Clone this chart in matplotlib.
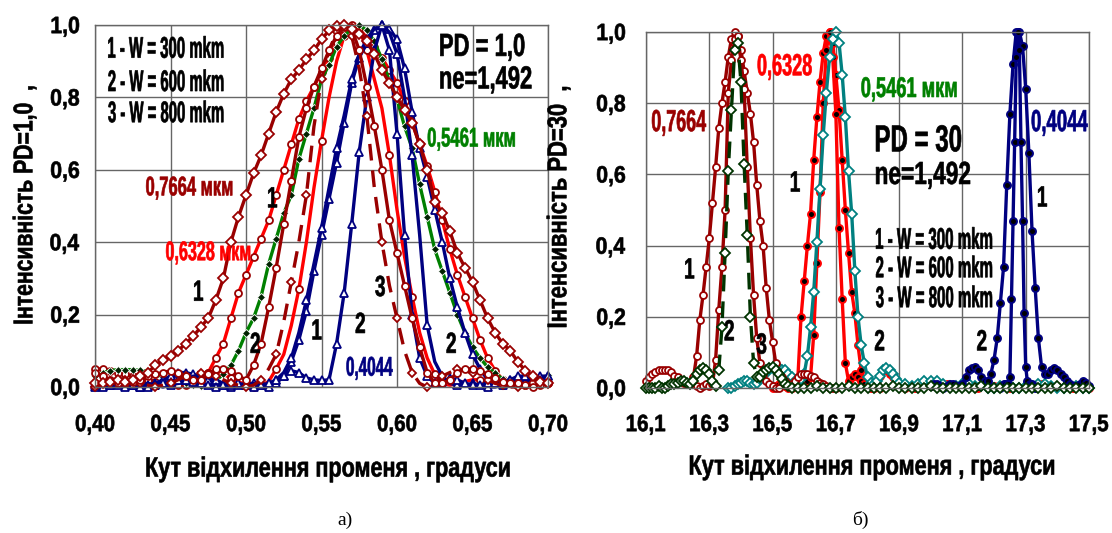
import matplotlib
matplotlib.use("Agg")
import matplotlib.pyplot as plt
from matplotlib.textpath import TextPath
from matplotlib.patches import PathPatch
from matplotlib.font_manager import FontProperties
from matplotlib.transforms import Affine2D, ScaledTranslation, IdentityTransform

# ---------------- data: panel a) PD = 1,0 ----------------
XL = [0.400, 0.405, 0.410, 0.415, 0.420, 0.425, 0.430, 0.435, 0.440, 0.445,
      0.450, 0.455, 0.460, 0.465, 0.470, 0.475, 0.480, 0.485, 0.490, 0.495,
      0.500, 0.505, 0.510, 0.515, 0.520, 0.525, 0.530, 0.535, 0.540, 0.545,
      0.550, 0.555, 0.560, 0.565, 0.570, 0.575, 0.580, 0.585, 0.590, 0.595,
      0.600, 0.605, 0.610, 0.615, 0.620, 0.625, 0.630, 0.635, 0.640, 0.645,
      0.650, 0.655, 0.660, 0.665, 0.670, 0.675, 0.680, 0.685, 0.690, 0.695,
      0.700]

# 0,7664 mkm, W = 300 / 600 / 800
dr_w300 = [0.01, 0.01, 0.015, 0.02, 0.015, 0.02, 0.03, 0.04, 0.06, 0.075,
           0.085, 0.10, 0.12, 0.14, 0.165, 0.19, 0.24, 0.30, 0.40, 0.47,
           0.53, 0.59, 0.64, 0.70, 0.76, 0.81, 0.85, 0.875, 0.905, 0.93,
           0.96, 0.985, 0.997, 1.0, 0.99, 0.975, 0.955, 0.92, 0.875, 0.84,
           0.80, 0.765, 0.73, 0.67, 0.60, 0.51, 0.48, 0.43, 0.37, 0.33,
           0.29, 0.24, 0.19, 0.15, 0.12, 0.10, 0.07, 0.045, 0.03, 0.015, 0.01]
dr_w600 = [0.04, 0.03, 0.02, 0.01, 0.01, 0.015, 0.02, 0.03, 0.035, 0.04,
           0.045, 0.04, 0.03, 0.02, 0.02, 0.035, 0.05, 0.05, 0.045, 0.03,
           0.02, 0.06, 0.12, 0.22, 0.33, 0.45, 0.57, 0.69, 0.77, 0.83,
           0.88, 0.93, 0.97, 0.995, 0.99, 0.93, 0.83, 0.72, 0.60, 0.46,
           0.37, 0.28, 0.19, 0.11, 0.04, 0.01, 0.01, 0.02, 0.04, 0.05,
           0.05, 0.045, 0.035, 0.025, 0.015, 0.01, 0.01, 0.005, 0.0, 0.005, 0.01]
dr_w800 = [0.0, 0.005, 0.01, 0.015, 0.02, 0.015, 0.01, 0.005, 0.0, 0.005,
           0.01, 0.02, 0.03, 0.04, 0.04, 0.035, 0.03, 0.02, 0.01, 0.005,
           0.0, 0.005, 0.02, 0.05, 0.09, 0.18, 0.29, 0.40, 0.53, 0.72,
           0.85, 0.93, 0.98, 1.0, 0.97, 0.88, 0.75, 0.55, 0.40, 0.28,
           0.19, 0.10, 0.04, 0.01, 0.0, 0.01, 0.03, 0.04, 0.05, 0.045,
           0.04, 0.03, 0.02, 0.01, 0.005, 0.0, 0.0, 0.005, 0.01, 0.01, 0.01]
# 0,6328 mkm
r_w300 = [0.05, 0.05, 0.045, 0.04, 0.035, 0.03, 0.025, 0.02, 0.015, 0.01,
          0.01, 0.005, 0.005, 0.01, 0.02, 0.04, 0.08, 0.12, 0.19, 0.26,
          0.31, 0.36, 0.41, 0.46, 0.53, 0.60, 0.67, 0.74, 0.79, 0.83,
          0.87, 0.91, 0.95, 0.99, 1.0, 0.99, 0.965, 0.94, 0.91, 0.875,
          0.84, 0.79, 0.73, 0.67, 0.61, 0.54, 0.46, 0.38, 0.31, 0.25,
          0.19, 0.13, 0.08, 0.045, 0.02, 0.01, 0.005, 0.005, 0.005, 0.01, 0.01]
r_w600 = [0.01, 0.01, 0.015, 0.02, 0.02, 0.015, 0.01, 0.005, 0.005, 0.01,
          0.015, 0.02, 0.025, 0.03, 0.035, 0.04, 0.04, 0.035, 0.025, 0.015,
          0.005, 0.0, 0.005, 0.015, 0.05, 0.09, 0.17, 0.27, 0.40, 0.55,
          0.68, 0.80, 0.90, 0.97, 1.0, 0.99, 0.93, 0.85, 0.77, 0.64,
          0.49, 0.36, 0.25, 0.15, 0.08, 0.035, 0.01, 0.005, 0.01, 0.015,
          0.02, 0.02, 0.015, 0.01, 0.005, 0.005, 0.005, 0.01, 0.01, 0.01, 0.01]
# 0,5461 mkm
g_w300 = [0.03, 0.04, 0.045, 0.048, 0.048, 0.048, 0.046, 0.043, 0.035, 0.027,
          0.02, 0.016, 0.01, 0.006, 0.003, 0.008, 0.018, 0.035, 0.06, 0.10,
          0.15, 0.19, 0.25, 0.34, 0.41, 0.48, 0.53, 0.63, 0.70, 0.77,
          0.85, 0.89, 0.94, 0.97, 0.99, 1.0, 0.985, 0.955, 0.905, 0.845,
          0.795, 0.72, 0.66, 0.56, 0.47, 0.38, 0.32, 0.26, 0.20, 0.15,
          0.11, 0.08, 0.055, 0.038, 0.022, 0.012, 0.007, 0.006, 0.012, 0.022, 0.034]
# 0,4044 mkm
b_w300 = [0.01, 0.005, 0.01, 0.005, 0.01, 0.005, 0.0, 0.005, 0.01, 0.02,
          0.03, 0.04, 0.04, 0.035, 0.03, 0.02, 0.01, 0.005, 0.0, 0.005,
          0.01, 0.01, 0.005, 0.0, 0.01, 0.03, 0.07, 0.13, 0.21, 0.32,
          0.42, 0.52, 0.62, 0.73, 0.84, 0.91, 0.95, 0.985, 1.0, 0.99,
          0.96, 0.88, 0.76, 0.66, 0.58, 0.49, 0.40, 0.30, 0.22, 0.15,
          0.09, 0.05, 0.02, 0.01, 0.01, 0.02, 0.02, 0.015, 0.02, 0.03, 0.03]
b_w800 = [0.0, 0.005, 0.005, 0.01, 0.0, 0.0, 0.005, 0.01, 0.005, 0.0,
          0.005, 0.01, 0.02, 0.03, 0.03, 0.025, 0.02, 0.01, 0.005, 0.0,
          0.005, 0.01, 0.01, 0.005, 0.02, 0.04, 0.08, 0.15, 0.24, 0.34,
          0.44, 0.55, 0.66, 0.75, 0.85, 0.92, 0.96, 0.99, 1.0, 0.98,
          0.92, 0.80, 0.64, 0.42, 0.17, 0.07, 0.03, 0.01, 0.005, 0.005,
          0.01, 0.005, 0.0, 0.0, 0.005, 0.01, 0.02, 0.02, 0.01, 0.01, 0.02]
b_w600 = [0.005, 0.0, 0.005, 0.01, 0.01, 0.005, 0.0, 0.0, 0.005, 0.01,
          0.015, 0.02, 0.02, 0.015, 0.01, 0.005, 0.0, 0.005, 0.01, 0.01,
          0.005, 0.0, 0.005, 0.01, 0.02, 0.03, 0.045, 0.04, 0.025, 0.02,
          0.018, 0.02, 0.12, 0.26, 0.45, 0.65, 0.80, 0.93, 1.0, 0.93,
          0.70, 0.42, 0.20, 0.08, 0.03, 0.01, 0.015, 0.025, 0.02, 0.01,
          0.005, 0.005, 0.01, 0.01, 0.015, 0.02, 0.03, 0.03, 0.02, 0.02, 0.03]

# ---------------- data: panel б) PD = 30 ----------------
x_dr1 = [16.10, 16.11, 16.12, 16.13, 16.14, 16.15, 16.16, 16.17, 16.18, 16.19,
         16.20, 16.21, 16.22, 16.23, 16.24, 16.25, 16.26, 16.27, 16.28, 16.29,
         16.30, 16.31, 16.32, 16.33, 16.34, 16.35, 16.36, 16.37, 16.38, 16.39,
         16.40, 16.41, 16.42, 16.43, 16.44, 16.45, 16.46, 16.47, 16.48, 16.49,
         16.50, 16.51, 16.52, 16.53, 16.54, 16.55, 16.56, 16.57, 16.58, 16.59,
         16.60, 16.61, 16.62, 16.63, 16.64, 16.65, 16.66, 16.67, 16.68, 16.69, 16.70]
y_dr1 = [0.02, 0.03, 0.04, 0.045, 0.05, 0.05, 0.05, 0.05, 0.045, 0.035,
         0.03, 0.02, 0.015, 0.01, 0.01, 0.03, 0.09, 0.19, 0.26, 0.34,
         0.42, 0.52, 0.62, 0.73, 0.80, 0.86, 0.93, 0.98, 1.0, 0.99,
         0.95, 0.89, 0.83, 0.77, 0.69, 0.57, 0.47, 0.40, 0.28, 0.19,
         0.13, 0.07, 0.04, 0.03, 0.02, 0.01, 0.01, 0.02, 0.03, 0.04,
         0.04, 0.04, 0.035, 0.03, 0.02, 0.015, 0.01, 0.005, 0.0, 0.0, 0.0]

x_dr2 = [16.26, 16.27, 16.28, 16.29, 16.30, 16.31, 16.32, 16.33, 16.34, 16.35,
         16.36, 16.37, 16.38, 16.39, 16.40, 16.41, 16.42, 16.43, 16.44, 16.45,
         16.46, 16.47, 16.48, 16.49, 16.50, 16.51, 16.52]
y_dr2 = [0.005, 0.0, 0.005, 0.01, 0.005, 0.01, 0.08, 0.22, 0.34, 0.50,
         0.83, 0.92, 0.98, 0.99, 0.92, 0.84, 0.62, 0.42, 0.26, 0.14,
         0.07, 0.04, 0.02, 0.01, 0.005, 0.0, 0.0]

x_dg = [16.10, 16.11, 16.12, 16.13, 16.14, 16.15, 16.16, 16.17, 16.18, 16.19,
        16.20, 16.21, 16.22, 16.23, 16.24, 16.25, 16.26, 16.27, 16.28, 16.29,
        16.30, 16.31, 16.32, 16.33, 16.34, 16.35, 16.36, 16.37, 16.38, 16.39,
        16.40, 16.41, 16.42, 16.43, 16.44, 16.45, 16.46, 16.47, 16.48, 16.49,
        16.50, 16.51, 16.52, 16.53, 16.54, 16.55, 16.56,
        16.58, 16.60, 16.62, 16.64, 16.66, 16.68, 16.70, 16.72, 16.74, 16.76,
        16.78, 16.80, 16.82, 16.84, 16.86, 16.88, 16.90, 16.92, 16.94, 16.96,
        16.98, 17.00, 17.02, 17.04, 17.06, 17.08, 17.10, 17.12, 17.14, 17.16,
        17.18, 17.20, 17.22, 17.24, 17.26, 17.28, 17.30, 17.32, 17.34, 17.36,
        17.38, 17.40, 17.42, 17.44, 17.46, 17.48, 17.50]
y_dg = [0.0, 0.0, 0.0, 0.0, 0.005, 0.0, 0.0, 0.005, 0.01, 0.01,
        0.015, 0.02, 0.02, 0.015, 0.01, 0.02, 0.04, 0.05, 0.055, 0.05,
        0.04, 0.02, 0.005, 0.05, 0.17, 0.38, 0.61, 0.78, 0.95, 0.97,
        0.86, 0.63, 0.43, 0.20, 0.07, 0.03, 0.03, 0.045, 0.05, 0.055,
        0.06, 0.05, 0.04, 0.025, 0.012, 0.005, 0.0,
        0.0, 0.0, 0.0, 0.005, 0.0, 0.0, 0.0, 0.0, 0.005, 0.0,
        0.0, 0.0, 0.0, 0.0, 0.0, 0.005, 0.0, 0.0, 0.0, 0.0,
        0.0, 0.005, 0.0, 0.0, 0.0, 0.0, 0.0, 0.0, 0.0, 0.005,
        0.0, 0.0, 0.0, 0.0, 0.0, 0.0, 0.0, 0.0, 0.0, 0.0,
        0.0, 0.005, 0.0, 0.0, 0.0, 0.0, 0.0]

x_r1 = [16.50, 16.51, 16.52, 16.53, 16.54, 16.55, 16.56, 16.57, 16.58, 16.59,
        16.60, 16.61, 16.62, 16.63, 16.64, 16.65, 16.66, 16.67, 16.68, 16.69,
        16.70, 16.71, 16.72, 16.73, 16.74, 16.75, 16.76, 16.77, 16.78, 16.79,
        16.80, 16.81, 16.82, 16.83, 16.84, 16.85, 16.86, 16.87, 16.88, 16.89,
        16.90, 16.91, 16.92,
        16.95, 17.00, 17.05, 17.10, 17.15, 17.20, 17.25, 17.30, 17.35, 17.40, 17.45, 17.50]
y_r1 = [0.0, 0.005, 0.01, 0.01, 0.005, 0.0, 0.0, 0.005, 0.03, 0.20,
        0.30, 0.40, 0.49, 0.64, 0.76, 0.86, 0.94, 0.99, 1.0, 0.97,
        0.88, 0.78, 0.64, 0.50, 0.38, 0.27, 0.21, 0.12, 0.05, 0.02,
        0.01, 0.005, 0.01, 0.02, 0.035, 0.05, 0.05, 0.04, 0.03, 0.015,
        0.01, 0.005, 0.0,
        0.0, 0.005, 0.01, 0.005, 0.0, 0.005, 0.0, 0.005, 0.01, 0.005, 0.0, 0.0]

x_r2 = [16.58, 16.59, 16.60, 16.61, 16.62, 16.63, 16.64, 16.65, 16.66, 16.67,
        16.68, 16.69, 16.70, 16.71, 16.72, 16.73, 16.74, 16.75, 16.76, 16.77,
        16.78, 16.79, 16.80, 16.81, 16.82, 16.83, 16.84]
y_r2 = [0.005, 0.01, 0.01, 0.02, 0.03, 0.15, 0.35, 0.55, 0.80, 0.95,
        1.0, 0.93, 0.77, 0.45, 0.25, 0.07, 0.02, 0.03, 0.04, 0.03,
        0.02, 0.01, 0.005, 0.0, 0.0, 0.005, 0.0]

x_t = [16.36, 16.37, 16.38, 16.39, 16.40, 16.41, 16.42, 16.43, 16.44, 16.45,
       16.46, 16.47, 16.48, 16.49, 16.50, 16.51, 16.52, 16.53, 16.54, 16.55,
       16.56, 16.57, 16.58, 16.59, 16.60, 16.61, 16.62, 16.63, 16.64, 16.65,
       16.66, 16.67, 16.68, 16.69, 16.70, 16.71, 16.72, 16.73, 16.74, 16.75,
       16.76, 16.77, 16.78, 16.79, 16.80, 16.81, 16.82, 16.83, 16.84, 16.85,
       16.86, 16.87, 16.88, 16.89, 16.90,
       16.92, 16.94, 16.96, 16.98, 17.00, 17.02, 17.04, 17.06, 17.08, 17.10,
       17.12, 17.14, 17.16, 17.18, 17.20, 17.22, 17.24, 17.26, 17.28, 17.30,
       17.32, 17.34, 17.36, 17.38, 17.40, 17.42, 17.44, 17.46, 17.48, 17.50]
y_t = [0.0, 0.0, 0.005, 0.01, 0.015, 0.02, 0.02, 0.015, 0.01, 0.015,
       0.025, 0.035, 0.045, 0.05, 0.055, 0.055, 0.055, 0.05, 0.05, 0.04,
       0.03, 0.02, 0.015, 0.025, 0.04, 0.09, 0.17, 0.27, 0.41, 0.56,
       0.71, 0.83, 0.93, 0.98, 1.0, 0.97, 0.88, 0.76, 0.61, 0.49,
       0.33, 0.20, 0.12, 0.07, 0.03, 0.015, 0.01, 0.02, 0.035, 0.05,
       0.055, 0.05, 0.04, 0.025, 0.015,
       0.01, 0.005, 0.01, 0.02, 0.02, 0.02, 0.01, 0.005, 0.005, 0.01,
       0.01, 0.005, 0.005, 0.0, 0.0, 0.005, 0.005, 0.0, 0.0, 0.005,
       0.005, 0.01, 0.01, 0.005, 0.0, 0.0, 0.005, 0.005, 0.0, 0.0]

x_b1 = [17.00, 17.01, 17.02, 17.03, 17.04, 17.05, 17.06, 17.07, 17.08, 17.09,
        17.10, 17.11, 17.12, 17.13, 17.14, 17.15, 17.16, 17.17, 17.18, 17.19,
        17.20, 17.21, 17.22, 17.23, 17.24, 17.25, 17.26, 17.27, 17.28, 17.29,
        17.30, 17.31, 17.32, 17.33, 17.34, 17.35, 17.36, 17.37, 17.38, 17.39,
        17.40, 17.41, 17.42, 17.43, 17.44, 17.45, 17.46, 17.47, 17.48, 17.49, 17.50]
y_b1 = [0.005, 0.01, 0.01, 0.005, 0.0, 0.005, 0.01, 0.01, 0.005, 0.005,
        0.01, 0.03, 0.05, 0.055, 0.06, 0.05, 0.03, 0.02, 0.02, 0.04,
        0.08, 0.14, 0.24, 0.34, 0.57, 0.77, 0.91, 1.0, 1.0, 0.96,
        0.84, 0.66, 0.44, 0.28, 0.14, 0.06, 0.04, 0.04, 0.05, 0.055,
        0.05, 0.04, 0.03, 0.02, 0.01, 0.005, 0.005, 0.01, 0.02, 0.015, 0.005]

x_b2 = [17.220, 17.225, 17.230, 17.235, 17.240, 17.245, 17.250, 17.255, 17.260, 17.265,
        17.270, 17.275, 17.280, 17.285, 17.290, 17.295, 17.300, 17.305, 17.310, 17.315,
        17.320, 17.325, 17.330]
y_b2 = [0.0, 0.005, 0.01, 0.01, 0.005, 0.01, 0.03, 0.25, 0.47, 0.69,
        0.93, 1.0, 0.95, 0.69, 0.47, 0.21, 0.06, 0.02, 0.005, 0.01,
        0.01, 0.005, 0.0]

ticks_a = [0.40, 0.45, 0.50, 0.55, 0.60, 0.65, 0.70]
ticklabels_a = ["0,40", "0,45", "0,50", "0,55", "0,60", "0,65", "0,70"]
ticks_b = [16.1, 16.3, 16.5, 16.7, 16.9, 17.1, 17.3, 17.5]
ticklabels_b = ["16,1", "16,3", "16,5", "16,7", "16,9", "17,1", "17,3", "17,5"]
yticks = [0.0, 0.2, 0.4, 0.6, 0.8, 1.0]
yticklabels = ["0,0", "0,2", "0,4", "0,6", "0,8", "1,0"]

DARKRED = "#990000"
RED = "#ff0000"
GREEN = "#008000"
NAVY = "#000080"
TEAL = "#008080"
DKGREEN = "#003300"
GRID = "#666666"

W, H = 1112, 533
DPI = 100
K = DPI / 72.0
FP = FontProperties(family="Liberation Sans", weight="bold")

fig = plt.figure(figsize=(W / DPI, H / DPI), dpi=DPI)
ax1 = fig.add_axes([95 / W, 1 - 387 / H, 453 / W, 362 / H])
ax2 = fig.add_axes([646 / W, 1 - 388 / H, 443 / W, 356 / H])


def squeezed(trans, x, y, s, size, width=None, sx=1.0, color="black",
             ha="left", va="center", rot=0, dx=0, dy=0):
    # Excel-like condensed heavy text drawn as a path
    path = TextPath((0, 0), s, size=size, prop=FP)
    ext = path.get_extents()
    if width is not None:
        sx = width / (ext.width * K)
    cap = TextPath((0, 0), "0", size=size, prop=FP).get_extents()
    cx = {"left": ext.x0, "center": (ext.x0 + ext.x1) / 2, "right": ext.x1}[ha]
    cy = (cap.y0 + cap.y1) / 2
    tr = (Affine2D().translate(-cx, -cy).scale(sx * K, K).rotate_deg(rot)
          + ScaledTranslation(x, y, trans) + Affine2D().translate(dx, dy))
    fig.add_artist(PathPatch(path, transform=tr, facecolor=color,
                             edgecolor=color, lw=0.45, zorder=5))


def px(x, y):
    # pixel position in the 1112x533 picture (origin top left)
    return IdentityTransform(), x, H - y


def frame(ax, xlim, xticks, xlabels, ylab_gap, xlab_drop):
    ax.set_xlim(*xlim)
    ax.set_ylim(0, 1.0)
    ax.set_xticks(xticks)
    ax.set_yticks(yticks)
    ax.set_xticklabels([])
    ax.set_yticklabels([])
    ax.tick_params(axis="both", length=0)
    ax.grid(True, color=GRID, lw=1.0)
    ax.set_axisbelow(True)
    for sp in ax.spines.values():
        sp.set_color(GRID)
        sp.set_linewidth(1.0)
    for v, s in zip(xticks, xlabels):
        squeezed(ax.get_xaxis_transform(), v, 0, s, 17, sx=0.87, ha="center",
                 dy=-xlab_drop)
    for v, s in zip(yticks, yticklabels):
        squeezed(ax.get_yaxis_transform(), 0, v, s, 17, sx=0.9, ha="right",
                 dx=-ylab_gap)


frame(ax1, (0.40, 0.70), ticks_a, ticklabels_a, 16, 36)
frame(ax2, (16.1, 17.5), ticks_b, ticklabels_b, 21, 35)

lw = 2.4
wm = dict(mfc="white", mew=1.3, clip_on=False)

# panel a)
ax1.plot(XL, r_w300, color=RED, lw=lw, marker="o", ms=5, mec=DARKRED, **wm)
ax1.plot(XL, r_w600, color=RED, lw=lw, marker="o", ms=5, mec=DARKRED, markevery=3, **wm)
ax1.plot(XL, g_w300, color=GREEN, lw=lw, marker="D", ms=4.2, mfc="#002200", mec="white",
         mew=0.6, clip_on=False)
ax1.plot(XL, b_w300, color=NAVY, lw=lw, marker="^", ms=6, mec=NAVY, **wm)
ax1.plot(XL, b_w800, color=NAVY, lw=lw, marker="^", ms=6, mec=NAVY, markevery=2, **wm)
ax1.plot(XL, b_w600, color=NAVY, lw=lw, marker="^", ms=6, mec=NAVY, **wm)
ax1.plot(XL, dr_w800, color=DARKRED, lw=lw, ls=(0, (5, 3)), marker="D", ms=4.5,
         mec=DARKRED, markevery=2, **wm)
ax1.plot(XL, dr_w600, color=DARKRED, lw=lw, marker="o", ms=5, mec=DARKRED, **wm)
ax1.plot(XL, dr_w300, color=DARKRED, lw=lw, marker="D", ms=5, mec=DARKRED, **wm)

# panel б)
dots = dict(marker="o", ms=5, mfc="black", mew=1.4, clip_on=False)
ax2.plot(x_r1, y_r1, color=RED, lw=lw, mec=RED, **dots)
ax2.plot(x_r2, y_r2, color=RED, lw=lw, mec=RED, **dots)
ax2.plot(x_t, y_t, color=TEAL, lw=lw, marker="D", ms=5, mec=TEAL, **wm)
ax2.plot(x_dr1, y_dr1, color=DARKRED, lw=lw, marker="o", ms=5, mec=DARKRED, **wm)
ax2.plot(x_dr2, y_dr2, color=DARKRED, lw=lw, marker="o", ms=5, mec=DARKRED, **wm)
ax2.plot(x_b1, y_b1, color=NAVY, lw=lw, mec=NAVY, **dots)
ax2.plot(x_b2, y_b2, color=NAVY, lw=lw, mec=NAVY, **dots)
ax2.plot(x_dg, y_dg, color=DKGREEN, lw=lw, ls=(0, (5, 3)), marker="D", ms=5,
         mec=DKGREEN, **wm)

# annotations a)
t1 = ax1.transData
for s, y in [("1 - W = 300 mkm", 0.938), ("2 - W = 600 mkm", 0.846), ("3 - W = 800 mkm", 0.760)]:
    squeezed(t1, 0.4088, y, s, 21.5, width=115)
squeezed(t1, 0.6287, 0.945, "PD = 1,0", 23, width=84)
squeezed(t1, 0.6287, 0.855, "ne=1,492", 23, width=91)
squeezed(t1, 0.6204, 0.69, "0,5461 мкм", 19.5, width=87, color=GREEN)
squeezed(t1, 0.4339, 0.555, "0,7664 мкм", 19.5, width=86, color=DARKRED)
squeezed(t1, 0.4471, 0.376, "0,6328 мкм", 19.5, width=84, color=RED)
squeezed(t1, 0.5666, 0.057, "0,4044", 19.5, width=46, color=NAVY)
for s, x, y in [("1", 0.5176, 0.524), ("1", 0.4686, 0.266), ("2", 0.5061, 0.122),
                ("1", 0.547, 0.159), ("2", 0.5757, 0.177), ("3", 0.5888, 0.279),
                ("2", 0.6359, 0.122)]:
    squeezed(t1, x, y, s, 21, sx=0.65, ha="center")

# annotations б)
t2 = ax2.transData
squeezed(t2, 16.453, 0.908, "0,6328", 22, width=54, color=RED)
squeezed(t2, 16.781, 0.845, "0,5461 мкм", 20.5, width=95, color=GREEN)
squeezed(t2, 16.119, 0.751, "0,7664", 22, width=54, color=DARKRED)
squeezed(t2, 17.319, 0.751, "0,4044", 22, width=56, color=NAVY)
squeezed(t2, 16.827, 0.701, "PD = 30", 27, width=85)
squeezed(t2, 16.827, 0.604, "ne=1,492", 23, width=94)
for s, y in [("1 - W = 300 mkm", 0.42), ("2 - W = 600 mkm", 0.34), ("3 - W = 800 mkm", 0.256)]:
    squeezed(t2, 16.827, y, s, 21.5, width=116)
for s, x, y in [("1", 16.238, 0.336), ("2", 16.363, 0.162), ("3", 16.465, 0.125),
                ("1", 16.572, 0.58), ("2", 16.838, 0.134), ("2", 17.161, 0.134),
                ("1", 17.353, 0.538)]:
    squeezed(t2, x, y, s, 21, sx=0.65, ha="center")

# axis titles
squeezed(*px(23, 205), "Інтенсивність PD=1,0  ,", 19.5, width=237, ha="center", rot=90)
squeezed(*px(557, 207), "Інтенсивність PD=30  ,", 19.5, width=240, ha="center", rot=90)
squeezed(*px(328, 467), "Кут відхилення променя , градуси", 20, width=363, ha="center")
squeezed(*px(872, 465), "Кут відхилення променя , градуси", 20, width=364, ha="center")

# captions
fig.text(345 / W, 1 - 520 / H, "а)", fontsize=14, family="Liberation Serif",
         ha="center", va="center")
fig.text(860 / W, 1 - 520 / H, "б)", fontsize=14, family="Liberation Serif",
         ha="center", va="center")

fig.savefig("out.png", dpi=DPI)
